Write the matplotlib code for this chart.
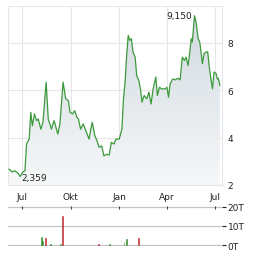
import numpy as np
import pandas as pd
import matplotlib
matplotlib.use("Agg")
import matplotlib.pyplot as plt
import matplotlib.dates as mdates
from matplotlib.colors import LinearSegmentedColormap

# ------------------------------------------------------------
# Data
# ------------------------------------------------------------
price_dates = [
    "2024-06-07", "2024-06-13", "2024-06-18", "2024-06-24", "2024-06-28",
    "2024-07-03", "2024-07-07", "2024-07-10", "2024-07-15", "2024-07-18",
    "2024-07-21", "2024-07-25", "2024-07-29", "2024-08-01", "2024-08-06",
    "2024-08-10", "2024-08-16", "2024-08-20", "2024-08-26", "2024-08-31",
    "2024-09-07", "2024-09-11", "2024-09-17", "2024-09-22", "2024-09-27",
    "2024-09-30", "2024-10-05", "2024-10-09", "2024-10-13", "2024-10-16",
    "2024-10-20", "2024-10-25", "2024-10-30", "2024-11-05", "2024-11-11",
    "2024-11-16", "2024-11-20", "2024-11-24", "2024-11-29", "2024-12-03",
    "2024-12-08", "2024-12-13", "2024-12-17", "2024-12-22", "2024-12-26",
    "2025-01-01", "2025-01-06", "2025-01-09", "2025-01-12", "2025-01-15",
    "2025-01-18", "2025-01-21", "2025-01-24", "2025-01-27", "2025-01-31",
    "2025-02-03", "2025-02-07", "2025-02-10", "2025-02-13", "2025-02-17",
    "2025-02-22", "2025-02-26", "2025-03-02", "2025-03-06", "2025-03-11",
    "2025-03-14", "2025-03-18", "2025-03-22", "2025-03-29", "2025-04-01",
    "2025-04-04", "2025-04-07", "2025-04-12", "2025-04-17", "2025-04-22",
    "2025-04-26", "2025-04-30", "2025-05-04", "2025-05-07", "2025-05-11",
    "2025-05-13", "2025-05-17", "2025-05-19", "2025-05-23", "2025-05-26",
    "2025-05-30", "2025-06-02", "2025-06-04", "2025-06-07", "2025-06-10",
    "2025-06-14", "2025-06-17", "2025-06-20", "2025-06-24", "2025-06-26",
    "2025-06-29", "2025-07-03", "2025-07-05", "2025-07-07", "2025-07-10",
]
price_values = [
    2.67, 2.55, 2.60, 2.50, 2.359,
    2.55, 2.60, 3.73, 3.94, 5.07,
    4.50, 5.00, 4.72, 4.79, 4.36,
    4.66, 6.34, 4.79, 4.36, 4.72,
    4.15, 4.58, 6.34, 5.64, 5.56,
    5.07, 5.00, 5.14, 4.86, 4.79,
    4.36, 4.58, 4.29, 3.94, 4.65,
    4.08, 3.87, 3.59, 3.65, 3.23,
    3.30, 3.26, 3.80, 3.73, 3.94,
    3.94, 4.36, 5.64, 6.34, 7.48,
    8.32, 8.11, 8.18, 7.62, 7.40,
    6.62, 6.41, 6.06, 5.50, 5.78,
    5.64, 5.92, 5.42, 6.06, 6.56,
    5.78, 6.13, 6.06, 6.06, 6.13,
    5.71, 6.27, 6.48, 6.44, 6.51,
    6.44, 7.40, 7.26, 7.40, 7.05,
    7.40, 8.18, 8.04, 9.15, 8.89,
    8.18, 8.04, 7.69, 7.12, 7.55,
    7.62, 7.62, 6.98, 6.34, 6.06,
    6.77, 6.70, 6.48, 6.51, 6.20,
]

vol_dates = [
    "2024-08-08", "2024-08-10", "2024-08-15", "2024-08-25", "2024-09-13",
    "2024-09-15", "2024-11-22", "2024-12-14", "2025-01-10", "2025-01-15",
    "2025-02-07", "2025-07-07",
]
vol_values = [4.5, 2.0, 4.0, 0.5, 0.5, 15.0, 0.4, 0.4, 1.5, 3.0, 4.0, 0.3]
vol_up = [True, True, False, True, True, False, False, True, True, True,
          False, True]

month_ticks = ["2024-07-01", "2024-10-01", "2025-01-01", "2025-04-01", "2025-07-01"]
month_labels = ["Jul", "Okt", "Jan", "Apr", "Jul"]
price_ticks = [2, 4, 6, 8]
vol_ticks = [0, 10, 20]
vol_labels = ["0T", "10T", "20T"]

# ------------------------------------------------------------
# Prep
# ------------------------------------------------------------
px = pd.to_datetime(price_dates)
py = np.array(price_values)
vx = pd.to_datetime(vol_dates)
vy = np.array(vol_values)
xmin, xmax = pd.Timestamp("2024-06-05"), pd.Timestamp("2025-07-14")
ymin, ymax = 2.0, 9.56

plt.rcParams["font.family"] = "DejaVu Sans"
fig = plt.figure(figsize=(2.64, 2.55), dpi=100)
ax = fig.add_axes([8 / 264, 1 - 186 / 255, 214 / 264, 179 / 255])
axv = fig.add_axes([8 / 264, 1 - 247 / 255, 214 / 264, 40 / 255])

grid_c = "#e6e6e6"
text_c = "#222222"

# ------------------------------------------------------------
# Price panel
# ------------------------------------------------------------
ax.set_xlim(xmin, xmax)
ax.set_ylim(ymin, ymax)

# gradient fill under the line
cmap = LinearSegmentedColormap.from_list("fade", ["#f6f8f9", "#d0d8df"])
grad = np.linspace(0, 1, 256).reshape(-1, 1)
img = ax.imshow(grad, cmap=cmap, origin="lower", aspect="auto",
                extent=[mdates.date2num(xmin), mdates.date2num(xmax), ymin, ymax],
                zorder=1)
poly = ax.fill_between(px, py, ymin, color="none", lw=0)
clip = poly.get_paths()[0]
img.set_clip_path(clip, transform=ax.transData)

ax.plot(px, py, color="#3c9a3c", lw=0.9, zorder=3)

ax.set_xticks(pd.to_datetime(month_ticks))
ax.set_xticklabels(month_labels)
ax.set_yticks(price_ticks)
ax.set_yticklabels([str(v) for v in price_ticks])
ax.yaxis.tick_right()
ax.tick_params(axis="both", length=0, labelsize=6.5, colors=text_c)
ax.tick_params(axis="x", pad=5)
ax.tick_params(axis="y", pad=4)
ax.grid(True, color=grid_c, lw=0.8, zorder=0)
ax.set_axisbelow(True)
for s in ax.spines.values():
    s.set_color(grid_c)
    s.set_linewidth(0.8)

# high / low annotations
imax = int(np.argmax(py))
imin = int(np.argmin(py))
ax.text(px[imax] - pd.Timedelta(days=4), py[imax], "9,150", ha="right",
        va="center", fontsize=6.5, color=text_c, zorder=4)
ax.text(px[imin] + pd.Timedelta(days=2), py[imin] - 0.05, "2,359", ha="left",
        va="center", fontsize=6.5, color=text_c, zorder=4)

# ------------------------------------------------------------
# Volume panel
# ------------------------------------------------------------
axv.set_xlim(xmin, xmax)
axv.set_ylim(-0.4, 20.4)
colors = ["#2e8b2e" if u else "#c0282d" for u in vol_up]
axv.bar(vx, vy, width=1.8, color=colors, edgecolor=colors, lw=0.4, zorder=3)
for v in vol_ticks:
    axv.axhline(v, color="#c4c4c4", lw=0.9, zorder=1)
axv.set_yticks(vol_ticks)
axv.set_yticklabels(vol_labels)
axv.yaxis.tick_right()
axv.tick_params(axis="y", length=3, width=0.8, pad=1, labelsize=6.5,
                colors=text_c)
axv.set_xticks(pd.to_datetime(month_ticks))
axv.xaxis.tick_top()
axv.tick_params(axis="x", length=2.5, width=0.8, direction="in",
                labeltop=False, colors="#444444")
for s in axv.spines.values():
    s.set_visible(False)

fig.savefig("out.png", dpi=100)
